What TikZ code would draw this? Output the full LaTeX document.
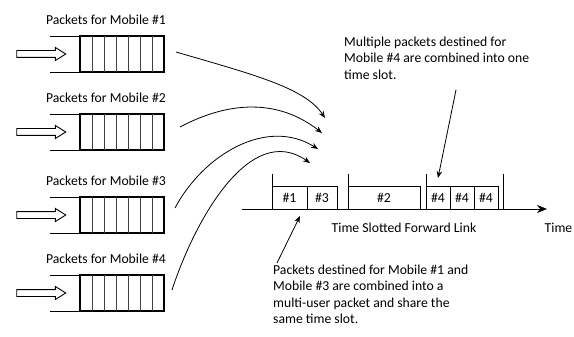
\documentclass[tikz,border=0pt]{standalone}
\usepackage{fontspec}
\setmainfont{Carlito}
\usepackage{tikz}
\usetikzlibrary{arrows.meta,shapes.arrows,positioning}
\tikzset{
  >={Stealth[length=7,width=5.5]}, % default arrow head
  queue/.style={draw,line width=1.1,minimum width=84,minimum height=36,inner sep=0,outer sep=0},
  queue line/.style={line width=0.9},
  cell/.style={line width=0.55,black!75},
  feed/.style={single arrow,draw,line width=0.9,minimum height=49,single arrow head extend=3,
    single arrow tip angle=64,inner xsep=0,inner ysep=3,text height=0,text depth=0,outer sep=0},
  connect/.style={->,line width=0.8},
  slot/.style={draw,line width=0.8,minimum height=23,inner sep=0,outer sep=0,anchor=south west},
  note/.style={align=left,anchor=north west,inner sep=0}
}

\begin{document}
\begin{tikzpicture}[x=1pt, y=-1pt, font=\fontsize{13.7}{16.2}\selectfont]
\useasboundingbox (0,0) rectangle (574,337);

% Styles
\tikzstyle{tick} = [line width=0.8]
\tikzstyle{axis} = [-{Stealth[length=10,width=8]}, line width=0.9]

% Files d'attente
\foreach \i/\y in {1/54, 2/132, 3/215, 4/293} {
  \node[queue] (Q-\i) at (122, \y) {};
  \foreach \k in {1,...,6}
    \draw[cell] ([xshift=\k*12]Q-\i.north west) -- ([xshift=\k*12]Q-\i.south west);
  \draw[queue line] (Q-\i.north west) -- ++(-30,0);
  \draw[queue line] (Q-\i.south west) -- ++(-30,0);
  \node[feed] (F-\i) at (38.5, \y) {};
  \node (L-\i) at (106, \y - 34) {Packets for Mobile \#\i};
}

% Axe du temps
\coordinate (A-0) at (242, 209);
\coordinate (A-1) at (547, 209);
\draw[axis] (A-0) -- (A-1);
\foreach \x in {272, 348, 426, 503}
  \draw[tick] (\x, 174) -- (\x, 209);

% Intervalles
\node[slot, minimum width=35] (S-1) at (272, 209) {\#1};
\node[slot, minimum width=30] (S-3) at (307, 209) {\#3};
\node[slot, minimum width=72] (S-2) at (348, 209) {\#2};
\node[slot, minimum width=24] (S-4a) at (426, 209) {\#4};
\node[slot, minimum width=24] (S-4b) at (450, 209) {\#4};
\node[slot, minimum width=24] (S-4c) at (474, 209) {\#4};

\node (link) at (404, 228) {Time Slotted Forward Link};
\node (time) at (558.5, 228) {Time};

% Flux vers le lien
\coordinate (B-1) at (176, 52);
\coordinate (B-2) at (180, 127);
\coordinate (B-3) at (175, 208);
\coordinate (B-4) at (172, 290);
\coordinate (E-1) at (325, 118);
\coordinate (E-2) at (322, 133);
\coordinate (E-3) at (318, 149);
\coordinate (E-4) at (310, 163);
\draw[connect] (B-1) .. controls (255, 75) and (305, 88) .. (E-1);
\draw[connect] (B-2) to[out=28, in=142] (E-2);
\draw[connect] (B-3) to[out=62, in=148] (E-3);
\draw[connect] (B-4) to[out=72, in=145] (E-4);

% Annotations
\node[note] (N-4) at (344, 37) {Multiple packets destined for\\Mobile \#4 are combined into one\\time slot.};
\node[note] (N-13) at (273, 265) {Packets destined for Mobile \#1 and\\Mobile \#3 are combined into a\\multi-user packet and share the\\same time slot.};
\coordinate (P-4) at (456, 90);
\coordinate (K-4) at (438, 178);
\coordinate (P-13) at (277, 263);
\coordinate (K-13) at (300, 216);
\draw[connect] (P-4) -- (K-4);
\draw[connect] (P-13) -- (K-13);

\end{tikzpicture}
\end{document}
